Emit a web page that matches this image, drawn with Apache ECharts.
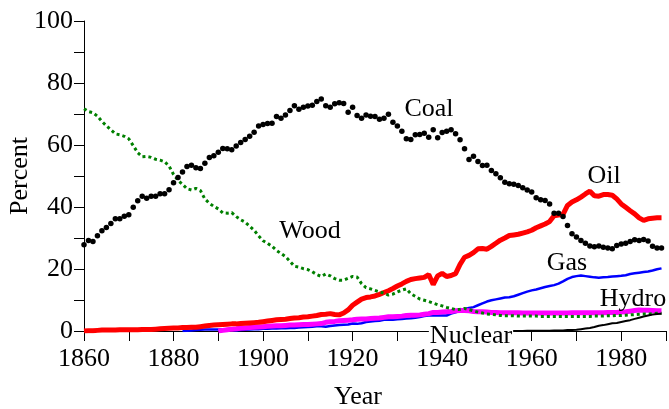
<!DOCTYPE html>
<html>
<head>
<meta charset="utf-8">
<script src="https://cdn.jsdelivr.net/npm/echarts@6/dist/echarts.min.js"></script>
<style>
html,body{margin:0;padding:0;background:#fff;}
#chart{width:669px;height:409px;}
</style>
</head>
<body>
<div id="chart"></div>
<script>
// ---- data (percent share of energy supply by year) ----
const coalStart = 1860;
const coal = [
  27.8, 29.2, 28.9, 30.7, 32.3, 33.4, 34.7, 36.2, 36.2, 37.0,
  37.5, 39.9, 42.0, 43.5, 42.8, 43.5, 43.5, 44.3, 44.3, 45.6,
  47.8, 49.5, 51.3, 53.1, 53.5, 52.7, 52.4, 54.1, 56.0, 56.5,
  57.7, 58.9, 58.8, 58.5, 59.7, 60.8, 61.8, 62.8, 64.1, 66.1,
  66.6, 66.9, 67.0, 69.2, 68.6, 69.7, 71.1, 72.7, 71.5, 72.2,
  72.6, 72.8, 74.0, 74.8, 72.7, 72.2, 73.3, 73.6, 73.4, 70.6,
  72.2, 69.5, 68.6, 69.7, 69.3, 69.2, 68.3, 68.6, 69.9, 67.3,
  66.1, 64.4, 62.0, 61.8, 63.3, 63.4, 63.8, 62.5, 64.9, 62.3,
  64.0, 64.4, 64.9, 63.6, 61.7, 58.8, 55.3, 56.4, 54.7, 53.4,
  53.5, 51.8, 50.7, 49.4, 48.0, 47.5, 47.3, 46.9, 46.2, 45.5,
  44.8, 43.0, 42.3, 42.1, 41.0, 38.0, 38.0, 36.9, 34.0, 31.4,
  30.3, 29.2, 28.3, 27.4, 27.2, 27.4, 27.0, 26.8, 26.5, 27.6,
  28.1, 28.3, 28.9, 29.4, 29.2, 29.5, 29.0, 27.3, 26.8, 26.8
];
const woodStart = 1860;
const wood = [
  71.7, 70.8, 70.4, 69.3, 67.6, 66.2, 64.9, 63.6, 63.3, 62.8,
  62.0, 59.8, 57.5, 56.2, 56.3, 56.0, 55.4, 55.1, 54.6, 53.2,
  50.5, 48.6, 47.3, 45.9, 45.5, 46.0, 45.3, 42.6, 41.2, 40.2,
  39.4, 38.1, 38.0, 38.2, 36.9, 35.9, 35.1, 33.8, 32.5, 30.7,
  29.1, 28.3, 27.3, 26.0, 25.0, 24.0, 22.5, 20.9, 20.6, 20.1,
  19.8, 19.1, 18.2, 17.6, 18.4, 17.8, 16.9, 16.4, 16.4, 17.0,
  17.6, 17.4, 15.3, 14.0, 13.6, 13.1, 12.6, 12.2, 11.6, 11.9,
  12.6, 13.2, 13.6, 12.0, 11.2, 10.3, 9.9, 9.5, 9.0, 8.5,
  8.1, 7.6, 7.3, 6.9, 7.0, 7.3, 6.9, 6.5, 6.1, 5.8,
  5.5, 5.4, 5.2, 5.0, 4.9, 4.9, 4.9, 4.8, 4.8, 4.8,
  4.8, 4.8, 4.7, 4.7, 4.7, 4.7, 4.7, 4.7, 4.7, 4.7,
  4.7, 4.7, 4.7, 4.7, 4.8, 4.8, 4.8, 4.9, 4.9, 5.0,
  5.0, 5.1, 5.2, 5.3, 5.4, 5.5, 5.5, 5.6, 5.7, 5.7
];
const oilStart = 1860;
const oil = [
  0.0, 0.1, 0.1, 0.2, 0.3, 0.3, 0.3, 0.3, 0.4, 0.4,
  0.4, 0.4, 0.4, 0.5, 0.5, 0.5, 0.6, 0.7, 0.8, 0.9,
  1.0, 1.0, 1.1, 1.1, 1.2, 1.2, 1.4, 1.6, 1.8, 1.9,
  2.0, 2.1, 2.2, 2.3, 2.3, 2.4, 2.5, 2.6, 2.7, 2.8,
  3.0, 3.2, 3.4, 3.6, 3.7, 3.8, 4.0, 4.2, 4.3, 4.5,
  4.6, 4.8, 5.0, 5.3, 5.4, 5.6, 5.3, 5.2, 5.8, 6.8,
  8.3, 9.3, 10.3, 10.8, 11.0, 11.3, 11.8, 12.4, 13.0, 13.7,
  14.5, 15.2, 16.0, 16.6, 16.9, 17.1, 17.3, 18.2, 15.0, 17.8,
  18.6, 17.6, 17.9, 18.5, 21.5, 23.8, 24.4, 25.3, 26.5, 26.6,
  26.4, 27.3, 28.3, 29.3, 30.0, 30.8, 31.0, 31.2, 31.6, 32.0,
  32.5, 33.3, 33.9, 34.5, 35.3, 37.2, 37.4, 37.6, 40.5, 41.6,
  42.3, 43.2, 44.2, 45.1, 43.6, 43.5, 44.0, 44.0, 43.8, 42.6,
  41.0, 39.9, 38.8, 37.8, 36.5, 35.7, 36.2, 36.4, 36.5, 36.5
];
const gasStart = 1882;
const gas = [
  0.0, 0.1, 0.2, 0.3, 0.4, 0.5, 0.5, 0.5,
  0.5, 0.5, 0.4, 0.3, 0.2, 0.3, 0.4, 0.5, 0.6, 0.6,
  0.7, 0.7, 0.8, 0.8, 0.9, 0.9, 1.0, 1.0, 1.1, 1.2,
  1.3, 1.4, 1.5, 1.5, 1.4, 1.6, 1.8, 1.9, 2.0, 2.1,
  2.4, 2.3, 2.5, 2.9, 3.1, 3.2, 3.3, 3.6, 3.7, 3.6,
  3.8, 3.9, 4.0, 4.1, 4.3, 4.5, 4.8, 5.0, 5.0, 5.0,
  5.0, 5.0, 5.6, 6.0, 6.5, 7.0, 7.4, 7.7, 8.3, 8.9,
  9.5, 9.9, 10.2, 10.5, 10.8, 10.9, 11.2, 11.7, 12.2, 12.7,
  13.1, 13.4, 13.8, 14.2, 14.5, 14.8, 15.3, 16.0, 16.8, 17.4,
  17.7, 17.9, 17.7, 17.5, 17.3, 17.2, 17.3, 17.4, 17.6, 17.7,
  17.8, 18.0, 18.4, 18.6, 18.8, 19.0, 19.2, 19.5, 19.9, 20.2
];
const hydroStart = 1890;
const hydro = [
  0.0, 0.2, 0.4, 0.6, 0.7, 0.9, 1.0, 1.1, 1.2, 1.3,
  1.4, 1.5, 1.6, 1.7, 1.7, 1.8, 1.9, 1.9, 2.0, 2.1,
  2.1, 2.2, 2.3, 2.4, 2.8, 3.0, 3.1, 3.3, 3.4, 3.5,
  3.6, 3.8, 3.9, 3.9, 4.0, 4.1, 4.2, 4.4, 4.6, 4.6,
  4.7, 4.8, 5.0, 5.1, 5.1, 5.2, 5.4, 5.6, 6.0, 6.0,
  6.1, 6.2, 6.3, 6.5, 6.6, 6.6, 6.5, 6.3, 6.2, 6.2,
  6.1, 6.0, 6.0, 5.9, 5.9, 5.9, 5.9, 5.9, 5.8, 5.8,
  5.8, 5.8, 5.8, 5.8, 5.8, 5.8, 5.8, 5.8, 5.8, 5.9,
  5.9, 5.9, 5.9, 5.9, 5.9, 5.9, 5.9, 6.0, 6.0, 6.0,
  6.1, 6.2, 6.4, 6.6, 6.8, 6.7, 6.7, 6.6, 6.5, 6.5
];
const nuclearStart = 1955;
const nuclear = [
  0.0, 0.0, 0.0, 0.0, 0.1,
  0.1, 0.1, 0.1, 0.1, 0.1, 0.2, 0.2, 0.2, 0.3, 0.3,
  0.4, 0.6, 0.8, 1.0, 1.3, 1.7, 1.9, 2.2, 2.5, 2.6,
  2.9, 3.2, 3.5, 3.9, 4.3, 4.7, 5.0, 5.3, 5.5, 5.6
];
const seriesNames = ['Coal', 'Oil', 'Wood', 'Gas', 'Hydro', 'Nuclear'];
const yTicks = [0, 20, 40, 60, 80, 100];
const xTicks = [1860, 1880, 1900, 1920, 1940, 1960, 1980];

function pairs(start, vals) { return vals.map((v, i) => [start + i, v]); }

const FONT = '"Liberation Serif", "Times New Roman", serif';
const chart = echarts.init(document.getElementById('chart'), null, {renderer: 'canvas'});

function lbl(text, x, y, bg) {
  const st = {text: text, x: x, y: y, fill: '#000', font: '26px ' + FONT, align: 'center', verticalAlign: 'middle'};
  if (bg) { st.backgroundColor = '#fff'; st.padding = [0, 1, 0, 1]; }
  return {type: 'text', z: 100, zlevel: 1, style: st};
}

chart.setOption({
  animation: false,
  backgroundColor: '#fff',
  grid: {left: 84, top: 21, width: 589, height: 310, containLabel: false},
  xAxis: [{
    type: 'value', min: 1860, max: 1990, interval: 10,
    axisLine: {show: true, onZero: false, lineStyle: {color: '#000', width: 1}},
    axisTick: {show: true, inside: false, length: 10, lineStyle: {color: '#000', width: 1}},
    axisLabel: {margin: 15, color: '#000', fontSize: 26, fontFamily: FONT,
      formatter: v => xTicks.indexOf(v) >= 0 ? String(v) : ''},
    splitLine: {show: false}
  }, {
    type: 'value', position: 'top', min: 1860, max: 1990,
    axisLine: {show: true, lineStyle: {color: '#000', width: 1}},
    axisTick: {show: false}, axisLabel: {show: false}, splitLine: {show: false}
  }],
  yAxis: {
    type: 'value', min: 0, max: 100, interval: 10,
    axisLine: {show: true, lineStyle: {color: '#000', width: 1}},
    axisTick: {show: true, inside: false, length: 10, lineStyle: {color: '#000', width: 1}},
    axisLabel: {margin: 11, color: '#000', fontSize: 26, fontFamily: FONT,
      formatter: v => yTicks.indexOf(v) >= 0 ? String(v) : ''},
    splitLine: {show: false}
  },
  series: [
    {name: 'Gas', type: 'line', data: pairs(gasStart, gas), showSymbol: false, z: 2,
      lineStyle: {color: '#0000ff', width: 2.5}},
    {name: 'Hydro', type: 'line', data: pairs(hydroStart, hydro), showSymbol: false, z: 3,
      lineStyle: {color: '#ff00ff', width: 5}},
    {name: 'Oil', type: 'line', data: pairs(oilStart, oil), showSymbol: false, z: 4,
      lineStyle: {color: '#ff0000', width: 5}},
    {name: 'Wood', type: 'line', data: pairs(woodStart, wood), showSymbol: false, z: 5,
      lineStyle: {color: '#008000', width: 3, type: [3, 3]}},
    {name: 'Coal', type: 'line', data: pairs(coalStart, coal), showSymbol: true, symbol: 'circle', symbolSize: 5.5, z: 6,
      itemStyle: {color: '#000'}, lineStyle: {width: 0, opacity: 0}},
    {name: 'Nuclear', type: 'line', data: pairs(nuclearStart, nuclear), showSymbol: false, z: 7,
      lineStyle: {color: '#000', width: 2}}
  ],
  graphic: [
    lbl(seriesNames[0], 429, 109),
    lbl(seriesNames[1], 604, 176),
    lbl(seriesNames[2], 310, 231),
    lbl(seriesNames[3], 567, 263),
    lbl(seriesNames[4], 633, 299),
    lbl(seriesNames[5], 471, 336, true),
    {type: 'text', z: 100, style: {text: 'Year', x: 358, y: 397, fill: '#000', font: '26px ' + FONT, align: 'center', verticalAlign: 'middle'}},
    {type: 'text', z: 100, rotation: Math.PI / 2, x: 20, y: 176,
      style: {text: 'Percent', x: 0, y: 0, fill: '#000', font: '26px ' + FONT, align: 'center', verticalAlign: 'middle'}}
  ]
});
</script>
</body>
</html>
